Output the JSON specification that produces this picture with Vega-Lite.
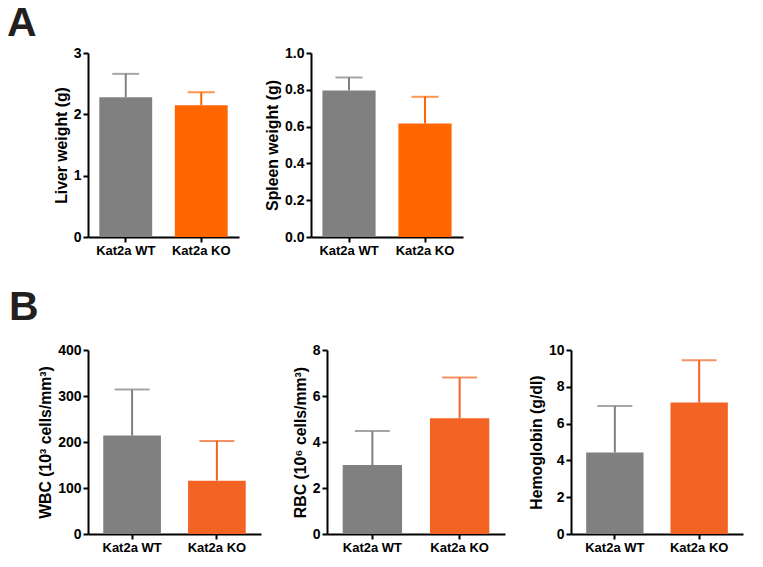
{
  "$schema": "https://vega.github.io/schema/vega-lite/v6.json",
  "padding": {"left": 7, "top": 3, "right": 10, "bottom": 5},
  "background": "white",
  "config": {
    "font": "Liberation Sans",
    "view": {"stroke": null},
    "axis": {
      "grid": false,
      "domainColor": "#000000",
      "domainWidth": 2,
      "tickColor": "#000000",
      "tickWidth": 2,
      "tickSize": 5,
      "labelColor": "#000000",
      "labelFontWeight": "bold",
      "titleColor": "#000000",
      "titleFontWeight": "bold",
      "titleFontSize": 15.8
    },
    "axisX": {"labelAngle": 0, "labelFontSize": 13, "labelPadding": 2, "title": null},
    "axisY": {"labelFontSize": 14, "labelPadding": 2, "titlePadding": 4}
  },
  "data": {
    "values": [
      {"measure": "Liver", "group": "Kat2a WT", "mean": 2.28, "upper": 2.66},
      {"measure": "Liver", "group": "Kat2a KO", "mean": 2.15, "upper": 2.36},
      {"measure": "Spleen", "group": "Kat2a WT", "mean": 0.796, "upper": 0.867},
      {"measure": "Spleen", "group": "Kat2a KO", "mean": 0.617, "upper": 0.762},
      {"measure": "WBC", "group": "Kat2a WT", "mean": 214, "upper": 314},
      {"measure": "WBC", "group": "Kat2a KO", "mean": 116, "upper": 202},
      {"measure": "RBC", "group": "Kat2a WT", "mean": 3.0, "upper": 4.48},
      {"measure": "RBC", "group": "Kat2a KO", "mean": 5.03, "upper": 6.8},
      {"measure": "Hgb", "group": "Kat2a WT", "mean": 4.43, "upper": 6.96},
      {"measure": "Hgb", "group": "Kat2a KO", "mean": 7.14, "upper": 9.44}
    ]
  },
  "spacing": 30,
  "resolve": {"scale": {"color": "independent"}},
  "vconcat": [
    {
      "bounds": "flush",
      "spacing": 72,
      "hconcat": [
        {
          "width": 151, "height": 184,
          "title": {"text": "A", "anchor": "start", "frame": "group", "fontSize": 41, "fontWeight": "bold", "color": "#231f20", "offset": 1, "dx": -81},
          "transform": [{"filter": "datum.measure === 'Liver'"}],
          "encoding": {
            "x": {"field": "group", "type": "nominal", "sort": ["Kat2a WT", "Kat2a KO"], "scale": {"paddingInner": 0.3, "paddingOuter": 0.15}},
            "color": {"field": "group", "type": "nominal", "scale": {"domain": ["Kat2a WT", "Kat2a KO"], "range": ["#808080", "#ff6600"]}, "legend": null}
          },
          "layer": [
            {"mark": {"type": "bar"}, "encoding": {"y": {"field": "mean", "type": "quantitative", "scale": {"domain": [0, 3], "nice": false}, "axis": {"values": [0, 1, 2, 3], "title": "Liver weight (g)"}}}},
            {"mark": {"type": "rule", "strokeWidth": 2}, "encoding": {"y": {"field": "mean", "type": "quantitative", "axis": {"values": [0, 1, 2, 3], "title": "Liver weight (g)"}}, "y2": {"field": "upper"}}},
            {"mark": {"type": "tick", "size": 27, "thickness": 2}, "encoding": {"y": {"field": "upper", "type": "quantitative", "axis": {"values": [0, 1, 2, 3], "title": "Liver weight (g)"}}}}
          ]
        },
        {
          "width": 152, "height": 184,
          "transform": [{"filter": "datum.measure === 'Spleen'"}],
          "encoding": {
            "x": {"field": "group", "type": "nominal", "sort": ["Kat2a WT", "Kat2a KO"], "scale": {"paddingInner": 0.3, "paddingOuter": 0.15}},
            "color": {"field": "group", "type": "nominal", "scale": {"domain": ["Kat2a WT", "Kat2a KO"], "range": ["#808080", "#ff6600"]}, "legend": null}
          },
          "layer": [
            {"mark": {"type": "bar"}, "encoding": {"y": {"field": "mean", "type": "quantitative", "scale": {"domain": [0, 1], "nice": false}, "axis": {"values": [0, 0.2, 0.4, 0.6, 0.8, 1.0], "format": ".1f", "title": "Spleen weight (g)"}}}},
            {"mark": {"type": "rule", "strokeWidth": 2}, "encoding": {"y": {"field": "mean", "type": "quantitative", "axis": {"values": [0, 0.2, 0.4, 0.6, 0.8, 1.0], "format": ".1f", "title": "Spleen weight (g)"}}, "y2": {"field": "upper"}}},
            {"mark": {"type": "tick", "size": 27, "thickness": 2}, "encoding": {"y": {"field": "upper", "type": "quantitative", "axis": {"values": [0, 0.2, 0.4, 0.6, 0.8, 1.0], "format": ".1f", "title": "Spleen weight (g)"}}}}
          ]
        }
      ]
    },
    {
      "bounds": "flush",
      "spacing": 66,
      "hconcat": [
        {
          "width": 173, "height": 184,
          "title": {"text": "B", "anchor": "start", "frame": "group", "fontSize": 41, "fontWeight": "bold", "color": "#231f20", "offset": 14, "dx": -79},
          "transform": [{"filter": "datum.measure === 'WBC'"}],
          "encoding": {
            "x": {"field": "group", "type": "nominal", "sort": ["Kat2a WT", "Kat2a KO"], "scale": {"paddingInner": 0.32, "paddingOuter": 0.18}},
            "color": {"field": "group", "type": "nominal", "scale": {"domain": ["Kat2a WT", "Kat2a KO"], "range": ["#808080", "#f26324"]}, "legend": null}
          },
          "layer": [
            {"mark": {"type": "bar"}, "encoding": {"y": {"field": "mean", "type": "quantitative", "scale": {"domain": [0, 400], "nice": false}, "axis": {"values": [0, 100, 200, 300, 400], "title": "WBC (10³ cells/mm³)"}}}},
            {"mark": {"type": "rule", "strokeWidth": 2}, "encoding": {"y": {"field": "mean", "type": "quantitative", "axis": {"values": [0, 100, 200, 300, 400], "title": "WBC (10³ cells/mm³)"}}, "y2": {"field": "upper"}}},
            {"mark": {"type": "tick", "size": 35, "thickness": 2}, "encoding": {"y": {"field": "upper", "type": "quantitative", "axis": {"values": [0, 100, 200, 300, 400], "title": "WBC (10³ cells/mm³)"}}}}
          ]
        },
        {
          "width": 178, "height": 184,
          "transform": [{"filter": "datum.measure === 'RBC'"}],
          "encoding": {
            "x": {"field": "group", "type": "nominal", "sort": ["Kat2a WT", "Kat2a KO"], "scale": {"paddingInner": 0.32, "paddingOuter": 0.18}},
            "color": {"field": "group", "type": "nominal", "scale": {"domain": ["Kat2a WT", "Kat2a KO"], "range": ["#808080", "#f26324"]}, "legend": null}
          },
          "layer": [
            {"mark": {"type": "bar"}, "encoding": {"y": {"field": "mean", "type": "quantitative", "scale": {"domain": [0, 8], "nice": false}, "axis": {"values": [0, 2, 4, 6, 8], "title": "RBC (10⁶ cells/mm³)"}}}},
            {"mark": {"type": "rule", "strokeWidth": 2}, "encoding": {"y": {"field": "mean", "type": "quantitative", "axis": {"values": [0, 2, 4, 6, 8], "title": "RBC (10⁶ cells/mm³)"}}, "y2": {"field": "upper"}}},
            {"mark": {"type": "tick", "size": 35, "thickness": 2}, "encoding": {"y": {"field": "upper", "type": "quantitative", "axis": {"values": [0, 2, 4, 6, 8], "title": "RBC (10⁶ cells/mm³)"}}}}
          ]
        },
        {
          "width": 172, "height": 184,
          "transform": [{"filter": "datum.measure === 'Hgb'"}],
          "encoding": {
            "x": {"field": "group", "type": "nominal", "sort": ["Kat2a WT", "Kat2a KO"], "scale": {"paddingInner": 0.32, "paddingOuter": 0.18}},
            "color": {"field": "group", "type": "nominal", "scale": {"domain": ["Kat2a WT", "Kat2a KO"], "range": ["#808080", "#f26324"]}, "legend": null}
          },
          "layer": [
            {"mark": {"type": "bar"}, "encoding": {"y": {"field": "mean", "type": "quantitative", "scale": {"domain": [0, 10], "nice": false}, "axis": {"values": [0, 2, 4, 6, 8, 10], "title": "Hemoglobin (g/dl)"}}}},
            {"mark": {"type": "rule", "strokeWidth": 2}, "encoding": {"y": {"field": "mean", "type": "quantitative", "axis": {"values": [0, 2, 4, 6, 8, 10], "title": "Hemoglobin (g/dl)"}}, "y2": {"field": "upper"}}},
            {"mark": {"type": "tick", "size": 35, "thickness": 2}, "encoding": {"y": {"field": "upper", "type": "quantitative", "axis": {"values": [0, 2, 4, 6, 8, 10], "title": "Hemoglobin (g/dl)"}}}}
          ]
        }
      ]
    }
  ]
}
